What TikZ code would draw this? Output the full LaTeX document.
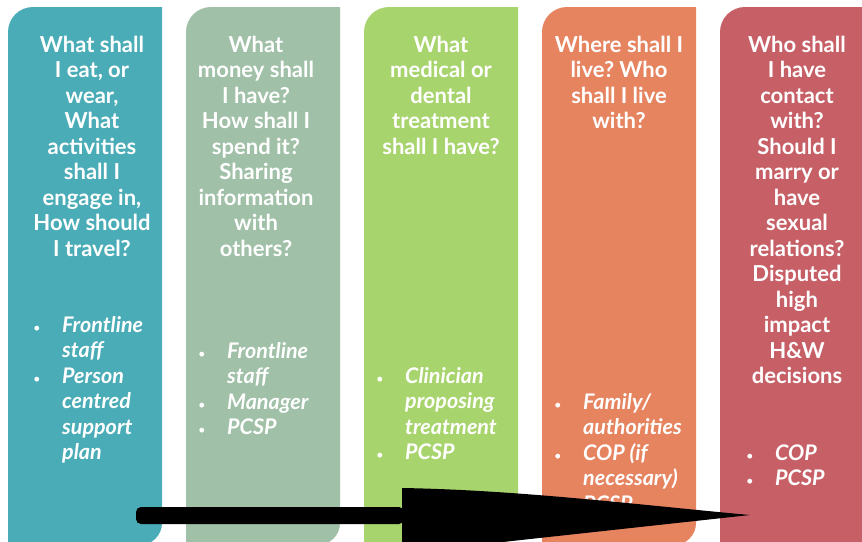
\documentclass[tikz,border=0pt]{standalone}
\usepackage{fontspec}
\setmainfont{Lato}
\usepackage{array}
\frenchspacing
\definecolor{cteal}{HTML}{4AACB6}
\definecolor{csage}{HTML}{A0C0A8}
\definecolor{clime}{HTML}{A8D46E}
\definecolor{corange}{HTML}{E68460}
\definecolor{crose}{HTML}{C76066}
\newcommand\dcol[2]{\fill[#2] (#1,545) -- (#1,32) arc[start angle=180,end angle=270,radius=25] -- ({#1+154},7) -- ({#1+154},523) arc[start angle=0,end angle=90,radius=22] -- cycle;}
\newcommand\headtxt[1]{\begin{tabular}[t]{@{}c@{}}#1\end{tabular}}
\newcommand\bultxt[1]{\begin{tabular}[t]{@{}p{29pt}@{}l@{}}#1\end{tabular}}
\newcommand\bu{{\normalfont\fontsize{13}{25.5}\selectfont\textbullet}}
\begin{document}
\begin{tikzpicture}[x=1pt,y=-1pt,
  head/.style={anchor=base,inner sep=0pt,text=white,font=\fontsize{22}{25.5}\selectfont\bfseries\frenchspacing},
  blist/.style={anchor=base west,inner sep=0pt,text=white,font=\fontsize{21.5}{25.5}\selectfont\bfseries\itshape}]
\useasboundingbox (0,0) rectangle (862,541);
\clip (0,0) rectangle (862,541);
\dcol{8}{cteal}
\dcol{186}{csage}
\dcol{364}{clime}
\dcol{542}{corange}
\dcol{720}{crose}
\node[head] (h1) at (92,52) {\headtxt{What shall\\I eat, or\\wear,\\What\\activities\\shall I\\engage in,\\How should\\I travel?}};
\node[head] (h2) at (256,52) {\headtxt{What\\money shall\\I have?\\How shall I\\spend it?\\Sharing\\information\\with\\others?}};
\node[head] (h3) at (441,52) {\headtxt{What\\medical or\\dental\\treatment\\shall I have?}};
\node[head] (h4) at (619,52) {\headtxt{Where shall I\\live?\ Who\\shall I live\\with?}};
\node[head] (h5) at (797,52) {\headtxt{Who shall\\I have\\contact\\with?\\Should I\\marry or\\have\\sexual\\relations?\\Disputed\\high\\impact\\H\&W\\decisions}};
\node[blist] (b1) at (33,332) {\bultxt{\bu & Frontline\\ & staff\\ \bu & Person\\ & centred\\ & support\\ & plan}};
\node[blist] (b2) at (198,358) {\bultxt{\bu & Frontline\\ & staff\\ \bu & Manager\\ \bu & PCSP}};
\node[blist] (b3) at (376,383) {\bultxt{\bu & Clinician\\ & proposing\\ & treatment\\ \bu & PCSP}};
\node[blist] (b4) at (554,409) {\bultxt{\bu & Family/\\ & authorities\\ \bu & COP (if\\ & necessary)\\ \bu & PCSP}};
\node[blist] (b5) at (746,460) {\bultxt{\bu & COP\\ \bu & PCSP}};
% arrow
\fill[black,rounded corners=5pt] (404,507) -- (136,507) -- (136,524) -- (404,524) -- cycle;
\fill[black] (402,524) -- (402,488) .. controls (520,490) and (640,505) .. (750,515) -- (402,553) -- cycle;
\end{tikzpicture}
\end{document}
